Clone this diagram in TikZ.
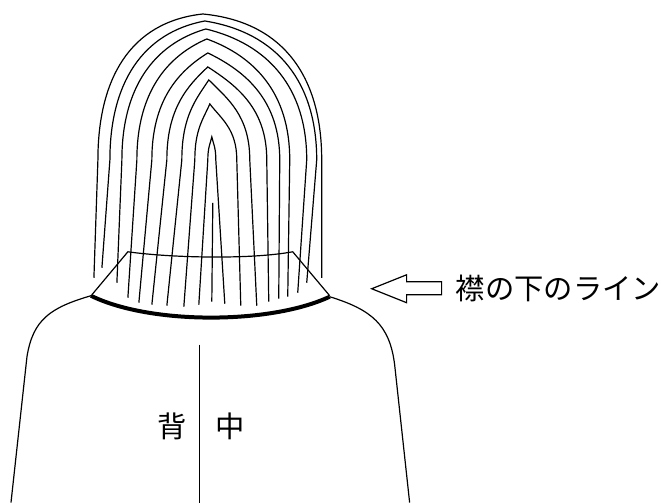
\documentclass[tikz,border=0pt]{standalone}
\usepackage{fontspec}
\usepackage{tikz}
\usetikzlibrary{positioning}
\newfontfamily\jpfont{Noto Sans CJK JP}

\begin{document}
\begin{tikzpicture}[x=0.75pt, y=-0.75pt,
    hair/.style={line width=0.9pt},
    jptext/.style={font=\jpfont\fontsize{22}{26}\selectfont, inner sep=0pt}]
    \fill[white] (0,0) rectangle (661,503);

    % Hair, outer arch to inner arch
    \draw[hair] (94,278) -- (98,160) .. controls (98,80) and (129.5,22) .. (203,14) .. controls (286.3,22) and (322,80) .. (322,160) -- (322,278);
    \draw[hair] (102,268) -- (110,160) .. controls (110,83.6) and (142.3,32.8) .. (205,21) .. controls (278.9,32.8) and (317,83.6) .. (317,160) -- (307,283);
    \draw[hair] (117,283) -- (122,160) .. controls (122,88) and (153.9,44.1) .. (206,29) .. controls (268.6,44.1) and (307,88) .. (307,160) -- (298,293);
    \draw[hair] (128,298) -- (137,160) .. controls (137,93.5) and (166.4,56.5) .. (207,39) .. controls (255.1,56.5) and (290,93.5) .. (290,160) -- (288,297);
    \draw[hair] (139,303) -- (152,160) .. controls (152,101.2) and (177.8,71.7) .. (208,53) .. controls (246.9,71.7) and (280,101.2) .. (280,160) -- (279,299);
    \draw[hair] (152,305) -- (167,160) .. controls (167,108.9) and (187.5,86.1) .. (208,67) .. controls (237.5,86.1) and (267,108.9) .. (267,160) -- (269,302);
    \draw[hair] (167,306) -- (182,160) .. controls (182,116) and (196.6,98.8) .. (209,80) .. controls (227.9,98.8) and (250,116) .. (250,160) -- (257,306);
    \draw[hair] (184,307) -- (195,160) .. controls (195,129.2) and (203.7,118.8) .. (210,104) .. controls (221.3,118.8) and (237,129.2) .. (237,160) -- (241,306);
    \draw[hair] (199,305) -- (208,160) .. controls (208,147.4) and (210.5,143.8) .. (212,137) .. controls (213.5,143.8) and (216,147.4) .. (216,160) -- (225,304);
    \draw[hair] (213,203) -- (212,302);

    % Neck
    \draw[hair] (92,295) -- (128,252) .. controls (170,258) and (250,260) .. (293,252) -- (330,296);
    \draw[line width=3pt] (91,296) .. controls (150,325) and (270,325) .. (330,297);

    % Shoulders and back
    \draw[hair] (91,296) .. controls (50,308) and (33,320) .. (27,357) -- (11,503);
    \draw[hair] (330,297) .. controls (372,310) and (390,325) .. (395,365) -- (410,503);
    \draw[hair] (199.5,345) -- (199.5,503);
    \node[jptext] (back) at (172,427) {背};
    \node[jptext] (middle) at (230,427) {中};

    % Arrow and label
    \coordinate (tip) at (372,289);
    \draw[hair] (tip) -- ++(35,-14) -- ++(0,7) -- ++(35,0) -- ++(0,13) -- ++(-35,0) -- ++(0,8) -- cycle;
    \node[jptext, anchor=west] (collar) at (456,289) {襟の下のライン};
\end{tikzpicture}
\end{document}
